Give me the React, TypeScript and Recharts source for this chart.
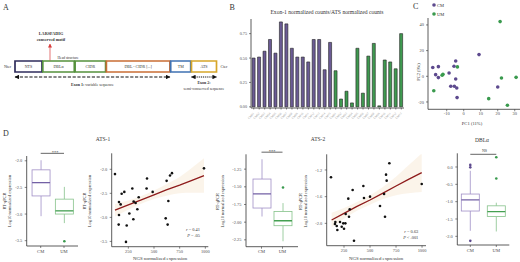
import React from 'react';
import {
  ComposedChart, BarChart, ScatterChart, Bar, Scatter, Line, Area, XAxis, YAxis,
  Cell, ReferenceArea, ReferenceLine,
} from 'recharts';

const SERIF = '"Liberation Serif", "DejaVu Serif", "Times New Roman", serif';

// ---------- Panel A: domain architecture ----------
const domainNames = ['NTS', 'DBLα', 'CIDR', 'DBL - CIDR [...]', 'TM', 'ATS'];
const domainLengths = [27, 31.5, 30.5, 63.5, 20, 25];
const domainColors = ['#2f2d5c', '#55913d', '#55913d', '#c96d35', '#3f72b3', '#d6a62a'];

// ---------- Panel B: exon-1 / ATS ratio per sample ----------
const bSamples = [
  'CM01', 'CM02', 'CM03', 'CM04', 'CM05', 'CM06', 'CM07', 'CM08', 'CM09', 'CM10', 'CM11', 'CM12', 'CM13', 'CM14', 'CM15',
  'UM01', 'UM02', 'UM03', 'UM04', 'UM05', 'UM06', 'UM07', 'UM08', 'UM09', 'UM10', 'UM11', 'UM12', 'UM13',
];
const bValues = [
  0.5, 0.51, 0.57, 0.69, 0.55, 0.87, 0.85, 0.6, 0.51, 0.51, 0.46, 0.69, 0.69, 0.38, 0.66,
  0.37, 0.08, 0.16, 0.04, 0.6, 0.14, 0.52, 0.65, 0.01, 0.48, 0.46, 0.39, 0.75,
];
const bGroups = bSamples.map((s) => s.slice(0, 2));
const bTicks = [0, 0.25, 0.5, 0.75];

// ---------- Panel C: PCA ----------
const cmPc1 = [-18.2, -14.9, -16.5, -14.9, -8.6, -5.7, -4.7, -4.7, -7.6, -5.5, -4.1, -3.9, 9.0, 20.0];
const cmPc2 = [6.8, 7.5, 1.3, -1.0, 2.6, 7.8, 11.9, -2.1, -7.8, -7.8, -9.1, -16.6, 16.9, -8.3];
const umPc1 = [-17.6, -12.7, -12.2, -3.7, 21.4, 22.2, 30.8, 14.7, 25.7];
const umPc2 = [-11.2, 0.8, 1.5, 7.3, 42.6, -1.3, -0.8, -17.4, -22.6];
const cXTicks = [-10, 0, 10, 20, 30];
const cYTicks = [-20, 0, 20, 40];

// ---------- Panel D: boxplots (min, q1, median, q3, max) ----------
const ats1CM = [-3.04, -2.66, -2.41, -2.17, -1.99];
const ats1UM = [-3.17, -3.0, -2.94, -2.72, -2.49];
const ats1OutCM: number[] = [];
const ats1OutUM = [-3.51];

const ats2CM = [-1.92, -1.8, -1.6, -1.39, -1.11];
const ats2UM = [-2.27, -2.05, -1.98, -1.85, -1.73];
const ats2OutCM: number[] = [];
const ats2OutUM = [-1.51];

const dblCM = [-1.84, -1.27, -0.95, -0.78, -0.11];
const dblUM = [-1.86, -1.43, -1.29, -1.12, -1.03];
const dblOutCM = [0.06, -0.01, -2.13];
const dblOutUM = [0.28, -0.33];

// ---------- Panel D: correlations ----------
const ats1NgsX = [120, 185, 211, 159, 175, 159, 156, 234, 227, 260, 289, 299, 302, 321, 338, 351, 432, 428, 487, 614, 633, 640, 623, 656, 675, 987];
const ats1QpcrY = [-2.1, -2.51, -2.47, -2.68, -2.73, -2.95, -3.15, -3.17, -3.51, -2.92, -2.4, -3.04, -2.67, -2.7, -2.83, -2.58, -2.19, -2.4, -2.47, -3.02, -3.15, -2.66, -2.24, -2.13, -2.08, -1.98];
const ats1FitX = [120, 250, 370, 500, 620, 750, 870, 987];
const ats1Fit = [-2.85, -2.74, -2.64, -2.53, -2.43, -2.33, -2.23, -2.13];
const ats1Lo = [-2.98, -2.84, -2.72, -2.62, -2.55, -2.5, -2.49, -2.49];
const ats1Hi = [-2.72, -2.65, -2.56, -2.44, -2.31, -2.16, -1.97, -1.77];

const ats2NgsX = [125, 167, 163, 180, 186, 212, 228, 250, 243, 263, 266, 291, 298, 305, 333, 346, 436, 442, 500, 596, 644, 654, 660, 686, 635, 997];
const ats2QpcrY = [-1.31, -1.98, -2.01, -2.04, -2.1, -1.98, -2.05, -2.08, -2.0, -2.0, -1.86, -1.63, -1.9, -1.79, -1.5, -2.26, -1.44, -1.62, -1.6, -1.74, -1.9, -1.27, -1.36, -1.1, -1.56, -1.41];
const ats2FitX = [131, 250, 370, 500, 620, 750, 870, 997];
const ats2Fit = [-1.95, -1.85, -1.75, -1.65, -1.55, -1.44, -1.34, -1.24];
const ats2Lo = [-2.06, -1.93, -1.815, -1.72, -1.64, -1.58, -1.55, -1.53];
const ats2Hi = [-1.84, -1.77, -1.685, -1.58, -1.46, -1.3, -1.13, -0.95];
const ngsTicks = [250, 500, 750, 1000];

// ---------- styling ----------
const PURPLE = '#6b5b95';
const GREEN = '#3f9a50';
const CM_PT = '#5d4a8e';
const UM_PT = '#3a9a4e';
const BOX_STROKE: Record<string, string> = { CM: '#a08fc6', UM: '#86c28a' };
const BOX_MED: Record<string, string> = { CM: '#7360a5', UM: '#45a052' };
const OUT_FILL: Record<string, string> = { CM: CM_PT, UM: UM_PT };
const axisLine = { stroke: '#333', strokeWidth: 0.8 };
const tickLine = { stroke: '#333', strokeWidth: 0.6 };
const tickText = (s: number) => ({ fontSize: s, fill: '#4d4d4d', fontFamily: SERIF });

function Txt({ x, y, s = 4.4, anchor = 'middle', rot = 0, weight = 400, fill = '#333', children }: any) {
  return (
    <text
      x={x}
      y={y}
      fontSize={s}
      textAnchor={anchor}
      fontFamily={SERIF}
      fontWeight={weight}
      fill={fill}
      transform={rot ? `rotate(${rot} ${x} ${y})` : undefined}
      dominantBaseline={rot ? 'central' : undefined}
    >
      {children}
    </text>
  );
}

const arrowShape = (stroke: string, width: number, dash?: string, start?: string, end?: string) => (p: any) => (
  <line x1={p.x1} y1={p.y1} x2={p.x2} y2={p.y2} stroke={stroke} strokeWidth={width} strokeDasharray={dash}
    markerStart={start} markerEnd={end} />
);

function PanelA() {
  const gap = 0.8;
  let pos = 15;
  const boxes = domainNames.map((name, i) => {
    const x1 = pos;
    const x2 = pos + domainLengths[i];
    pos = x2 + gap;
    return { name, x1, x2, color: domainColors[i] };
  });
  const exon1End = boxes[3].x2;
  return (
    <div style={{ position: 'absolute', left: 0, top: 0 }}>
      <ComposedChart width={250} height={125} data={[{ x: 0, y: 0 }]} margin={{ top: 0, right: 0, bottom: 0, left: 0 }}>
        <XAxis type="number" dataKey="x" domain={[0, 250]} hide />
        <YAxis type="number" dataKey="y" domain={[0, 125]} reversed hide />
        {boxes.map((b) => (
          <ReferenceArea key={b.name} x1={b.x1} x2={b.x2} y1={61} y2={72} fill="#ffffff" fillOpacity={1}
            stroke={b.color} strokeWidth={1.7} ifOverflow="visible"
            label={{ value: b.name, position: 'center', fontSize: 4, fill: '#333', fontFamily: SERIF }} />
        ))}
        <ReferenceLine segment={[{ x: boxes[0].x1, y: 77 }, { x: exon1End, y: 77 }]} ifOverflow="visible"
          shape={arrowShape('#111', 1.2, '3.2 1.6', 'url(#headBlack)', 'url(#headBlack)')} />
        <ReferenceLine segment={[{ x: boxes[5].x1, y: 77 }, { x: boxes[5].x2, y: 77 }]} ifOverflow="visible"
          shape={arrowShape('#111', 1.2, '1.1 0.8', 'url(#headBlack)', 'url(#headBlack)')} />
        <ReferenceLine segment={[{ x: 50, y: 60.5 }, { x: 50, y: 44 }]} ifOverflow="visible"
          shape={arrowShape('#d83a3a', 0.7, undefined, undefined, 'url(#headRed)')} />
      </ComposedChart>
    </div>
  );
}

const SampleTick = (p: any) => (
  <text x={p.x} y={p.y + 1.5} transform={`rotate(-45 ${p.x} ${p.y + 1.5})`} textAnchor="end"
    dominantBaseline="central" fontSize={3} fill="#9a9a9a" fontFamily={SERIF}>
    {p.payload.value}
  </text>
);

function PanelB() {
  const data = bSamples.map((s, i) => ({ sample: s, value: bValues[i], group: bGroups[i] }));
  return (
    <div style={{ position: 'absolute', left: 200, top: 0 }}>
      <BarChart width={210} height={125} data={data} margin={{ top: 19, right: 6, left: 0, bottom: 0 }} barCategoryGap="20%">
        <XAxis dataKey="sample" interval={0} height={17} tick={<SampleTick />} tickSize={1.5} axisLine={axisLine} tickLine={tickLine} />
        <YAxis width={51} domain={[-0.012, 0.9]} ticks={bTicks} allowDataOverflow tickFormatter={(v: number) => v.toFixed(2)}
          tick={tickText(4.2)} tickSize={2} tickMargin={2} axisLine={axisLine} tickLine={tickLine} />
        <Bar dataKey="value" stroke="#222" strokeWidth={0.6} isAnimationActive={false}>
          {data.map((d, i) => <Cell key={i} fill={d.group === 'CM' ? PURPLE : GREEN} />)}
        </Bar>
      </BarChart>
    </div>
  );
}

const dot = (fill: string, r: number) => (p: any) => <circle cx={p.cx} cy={p.cy} r={r} fill={fill} />;

function PanelC() {
  const cm = cmPc1.map((x, i) => ({ x, y: cmPc2[i] }));
  const um = umPc1.map((x, i) => ({ x, y: umPc2[i] }));
  return (
    <div style={{ position: 'absolute', left: 400, top: 0 }}>
      <ScatterChart width={120} height={130} margin={{ top: 18, right: 0, left: 0, bottom: 12.7 }}>
        <XAxis type="number" dataKey="x" domain={[-21, 33.1]} ticks={cXTicks} allowDataOverflow height={8}
          tick={tickText(4.4)} tickSize={2} tickMargin={1} axisLine={axisLine} tickLine={tickLine} />
        <YAxis type="number" dataKey="y" domain={[-25.7, 45.4]} ticks={cYTicks} allowDataOverflow width={28}
          tick={tickText(4.4)} tickSize={2} tickMargin={2} axisLine={axisLine} tickLine={tickLine} />
        <Scatter data={cm} shape={dot(CM_PT, 1.8)} isAnimationActive={false} />
        <Scatter data={um} shape={dot(UM_PT, 1.8)} isAnimationActive={false} />
      </ScatterChart>
    </div>
  );
}

const BoxShape = (p: any) => {
  const { x, y, width, height, payload } = p;
  const [mn, q1, md, q3, mx] = payload.stats;
  const top = Math.min(y, y + height);
  const h = Math.abs(height);
  const py = (v: number) => top + ((mx - v) / (mx - mn)) * h;
  const cx = x + width / 2;
  const s = BOX_STROKE[payload.group];
  return (
    <g>
      <line x1={cx} x2={cx} y1={py(mx)} y2={py(q3)} stroke={s} strokeWidth={0.8} />
      <line x1={cx} x2={cx} y1={py(q1)} y2={py(mn)} stroke={s} strokeWidth={0.8} />
      <rect x={x} y={py(q3)} width={width} height={py(q1) - py(q3)} fill="#ffffff" stroke={s} strokeWidth={0.8} />
      <line x1={x} x2={x + width} y1={py(md)} y2={py(md)} stroke={BOX_MED[payload.group]} strokeWidth={1.3} />
      {payload.outliers.map((v: number, i: number) => (
        <circle key={i} cx={cx} cy={py(v)} r={1.3} fill={OUT_FILL[payload.group]} />
      ))}
    </g>
  );
};

function BoxPanel({ left, width, yAxisWidth, marginTop, marginRight, xAxisHeight, pad, domain, ticks, digits, cm, um, outCM, outUM, sigY }: any) {
  const data = [
    { group: 'CM', range: [cm[0], cm[4]], stats: cm, outliers: outCM },
    { group: 'UM', range: [um[0], um[4]], stats: um, outliers: outUM },
  ];
  return (
    <div style={{ position: 'absolute', left, top: 130 }}>
      <ComposedChart width={width} height={126} data={data} margin={{ top: marginTop, right: marginRight, bottom: 0, left: 0 }}>
        <XAxis dataKey="group" type="category" padding={{ left: pad, right: pad }} height={xAxisHeight}
          tick={tickText(4.6)} tickSize={2} tickMargin={1.5} axisLine={axisLine} tickLine={tickLine} />
        <YAxis type="number" domain={domain} ticks={ticks} allowDataOverflow width={yAxisWidth}
          tickFormatter={(v: number) => v.toFixed(digits)} tick={tickText(4.4)} tickSize={2} tickMargin={2.5}
          axisLine={axisLine} tickLine={tickLine} />
        <Bar dataKey="range" barSize={18} shape={BoxShape} isAnimationActive={false} />
        <ReferenceLine segment={[{ x: 'CM', y: sigY }, { x: 'UM', y: sigY }]} stroke="#555" strokeWidth={0.9} ifOverflow="visible" />
      </ComposedChart>
    </div>
  );
}

function FitPanel({ left, width, yAxisWidth, marginTop, marginRight, xAxisHeight, xDomain, yDomain, yTicks, digits, px, py, fx, fit, lo, hi }: any) {
  const pts = px.map((x: number, i: number) => ({ x, y: py[i] }));
  const line = fx.map((x: number, i: number) => ({ x, fit: fit[i], band: [lo[i], hi[i]] }));
  return (
    <div style={{ position: 'absolute', left, top: 130 }}>
      <ComposedChart width={width} height={126} data={line} margin={{ top: marginTop, right: marginRight, bottom: 0, left: 0 }}>
        <XAxis type="number" dataKey="x" domain={xDomain} ticks={ngsTicks} allowDataOverflow height={xAxisHeight}
          tick={tickText(4.4)} tickSize={2} tickMargin={1} axisLine={axisLine} tickLine={tickLine} />
        <YAxis type="number" domain={yDomain} ticks={yTicks} allowDataOverflow width={yAxisWidth}
          tickFormatter={(v: number) => v.toFixed(digits)} tick={tickText(4.4)} tickSize={2} tickMargin={2.5}
          axisLine={axisLine} tickLine={tickLine} />
        <Scatter data={pts} dataKey="y" shape={dot('#111', 1.3)} isAnimationActive={false} />
        <Area dataKey="band" type="monotone" fill="#f8eedd" fillOpacity={0.62} stroke="none" activeDot={false} isAnimationActive={false} />
        <Line dataKey="fit" type="linear" stroke="#8e1b1b" strokeWidth={1.3} dot={false} activeDot={false} isAnimationActive={false} />
      </ComposedChart>
    </div>
  );
}

function YLab({ x, y }: any) {
  return (
    <>
      <Txt x={x} y={y} s={4.4} rot={-90}>RT-qPCR</Txt>
      <Txt x={x + 5.3} y={y} s={4.4} rot={-90}>Log10 normalized expression</Txt>
    </>
  );
}

export default function App() {
  return (
    <div style={{ position: 'absolute', left: 0, top: 0, width: 520, height: 262, background: '#ffffff', overflow: 'hidden' }}>
      <svg width={0} height={0} style={{ position: 'absolute' }}>
        <defs>
          <marker id="headBlack" viewBox="0 0 10 10" refX="9" refY="5" markerUnits="userSpaceOnUse"
            markerWidth="5" markerHeight="4.5" orient="auto-start-reverse">
            <path d="M0,0 L10,5 L0,10 Z" fill="#111" />
          </marker>
          <marker id="headRed" viewBox="0 0 10 10" refX="9" refY="5" markerUnits="userSpaceOnUse"
            markerWidth="4" markerHeight="4" orient="auto-start-reverse">
            <path d="M0,0 L10,5 L0,10 Z" fill="#d83a3a" />
          </marker>
        </defs>
      </svg>

      <PanelA />
      <PanelB />
      <PanelC />

      <BoxPanel left={0} width={80} yAxisWidth={26.7} marginTop={26} marginRight={2} xAxisHeight={10} pad={2.35}
        domain={[-3.6, -1.91]} ticks={[-3.5, -3.0, -2.5, -2.0]} digits={1} cm={ats1CM} um={ats1UM}
        outCM={ats1OutCM} outUM={ats1OutUM} sigY={-1.86} />
      <FitPanel left={80} width={132} yAxisWidth={31.7} marginTop={23.3} marginRight={3.7} xAxisHeight={9.3}
        xDomain={[88, 1029]} yDomain={[-3.61, -1.667]} yTicks={[-3.5, -3.0, -2.5, -2.0]} digits={1}
        px={ats1NgsX} py={ats1QpcrY} fx={ats1FitX} fit={ats1Fit} lo={ats1Lo} hi={ats1Hi} />
      <BoxPanel left={212} width={88} yAxisWidth={34} marginTop={24.3} marginRight={2} xAxisHeight={9.3} pad={5}
        domain={[-2.347, -1.04]} ticks={[-2.25, -2.0, -1.75, -1.5, -1.25]} digits={2} cm={ats2CM} um={ats2UM}
        outCM={ats2OutCM} outUM={ats2OutUM} sigY={-1.01} />
      <FitPanel left={296} width={132} yAxisWidth={30.7} marginTop={24.3} marginRight={2} xAxisHeight={10.3}
        xDomain={[83.7, 1038]} yDomain={[-2.335, -0.965]} yTicks={[-2.0, -1.6, -1.2]} digits={1}
        px={ats2NgsX} py={ats2QpcrY} fx={ats2FitX} fit={ats2Fit} lo={ats2Lo} hi={ats2Hi} />
      <BoxPanel left={430} width={82} yAxisWidth={27.3} marginTop={23.3} marginRight={2.7} xAxisHeight={11} pad={0}
        domain={[-2.25, 0.395]} ticks={[-2.0, -1.5, -1.0, -0.5, 0.0]} digits={1} cm={dblCM} um={dblUM}
        outCM={dblOutCM} outUM={dblOutUM} sigY={0.366} />

      <svg width={520} height={262} style={{ position: 'absolute', left: 0, top: 0, pointerEvents: 'none' }}>
        {/* panel letters */}
        <Txt x={3} y={9.5} s={8} anchor="start">A</Txt>
        <Txt x={229.5} y={9.5} s={8} anchor="start">B</Txt>
        <Txt x={413} y={9} s={8} anchor="start">C</Txt>
        <Txt x={3} y={135.5} s={8} anchor="start">D</Txt>

        {/* panel A texts */}
        <Txt x={7.5} y={68} s={4}>Nter</Txt>
        <Txt x={224} y={68} s={4}>Cter</Txt>
        <Txt x={51} y={35} s={4.2} weight={700}>LARSFADIG</Txt>
        <Txt x={51} y={40.5} s={4.2} weight={700}>conserved motif</Txt>
        <Txt x={68} y={58.5} s={3.6}>Head structure</Txt>
        <text x={92.5} y={85.5} fontSize={4} textAnchor="middle" fontFamily={SERIF} fill="#333">
          <tspan fontWeight={700}>Exon 1:</tspan> variable sequence
        </text>
        <Txt x={204} y={84} s={4} weight={700}>Exon 2:</Txt>
        <Txt x={204} y={90} s={4}>semi-conserved sequence</Txt>

        {/* panel B */}
        <Txt x={327} y={14.3} s={5.6}>Exon-1 normalized counts/ATS normalized counts</Txt>

        {/* panel C */}
        <circle cx={434} cy={5} r={1.8} fill={CM_PT} />
        <Txt x={437} y={6.6} s={4.5} anchor="start">CM</Txt>
        <circle cx={434} cy={14} r={1.8} fill={UM_PT} />
        <Txt x={437} y={15.6} s={4.5} anchor="start">UM</Txt>
        <Txt x={418} y={72} s={4.4} rot={-90}>PC2 (9%)</Txt>
        <Txt x={472} y={124.5} s={4.6}>PC1 (11%)</Txt>

        {/* panel D titles */}
        <Txt x={103} y={140.5} s={5.5}>ATS-1</Txt>
        <Txt x={318} y={140.5} s={5.5}>ATS-2</Txt>
        <Txt x={482} y={141.5} s={5.5}>DBLα</Txt>

        {/* significance */}
        <Txt x={55} y={153.8} s={4.5}>***</Txt>
        <Txt x={272} y={152.8} s={4.5}>***</Txt>
        <Txt x={484.5} y={151.8} s={4}>NS</Txt>

        {/* y labels */}
        <YLab x={4} y={201} />
        <YLab x={84} y={201} />
        <YLab x={217} y={201.5} />
        <YLab x={300} y={201.5} />

        {/* x labels */}
        <Txt x={160} y={259.8} s={4.8}>NGS normalized expression</Txt>
        <Txt x={376} y={259.8} s={4.8}>NGS normalized expression</Txt>

        {/* correlation stats */}
        <text x={200} y={230.8} fontSize={4.4} textAnchor="end" fontFamily={SERIF} fill="#333">
          <tspan fontStyle="italic">r</tspan> = 0.41
        </text>
        <text x={200} y={236.6} fontSize={4.4} textAnchor="end" fontFamily={SERIF} fill="#333">
          <tspan fontStyle="italic">P</tspan> = .05
        </text>
        <text x={418.3} y={233.2} fontSize={4.4} textAnchor="end" fontFamily={SERIF} fill="#333">
          <tspan fontStyle="italic">r</tspan> = 0.63
        </text>
        <text x={418.3} y={239.2} fontSize={4.4} textAnchor="end" fontFamily={SERIF} fill="#333">
          <tspan fontStyle="italic">P</tspan> &lt; .001
        </text>
      </svg>
    </div>
  );
}
